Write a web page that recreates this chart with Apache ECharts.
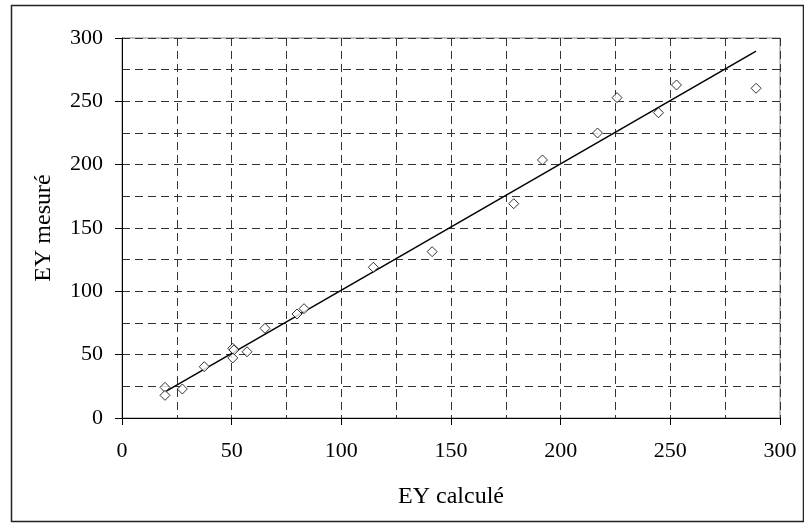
<!DOCTYPE html>
<html>
<head>
<meta charset="utf-8">
<script src="https://cdn.jsdelivr.net/npm/echarts@6/dist/echarts.min.js"></script>
<style>html,body{margin:0;padding:0;background:#fff;}#c{width:804px;height:523px;}</style>
</head>
<body>
<div id="c"></div>
<script>
var xCalc = [19.6, 19.6, 27.5, 37.5, 50.5, 51.0, 50.5, 57.0, 65.2, 79.8, 83.0, 114.6, 141.4, 178.6, 191.7, 216.8, 225.7, 244.6, 252.8, 289.1];
var yMes  = [24.2, 17.9, 22.9, 40.5, 55.0, 53.7, 47.4, 52.3, 70.8, 82.1, 86.3, 119.0, 131.3, 169.2, 203.7, 225.0, 252.9, 241.0, 262.9, 260.3];
var lineX = [19.6, 289.1];
var lineY = [20.6, 289.7];
var xTitle = 'EY calculé';
var yTitle = 'EY mesuré';

var pts = xCalc.map(function (x, i) { return [x, yMes[i]]; });
var linePts = lineX.map(function (x, i) { return [x, lineY[i]]; });
var font = 'Liberation Serif';
var dash = { color: '#333', width: 1, type: [8, 5] };

var chart = echarts.init(document.getElementById('c'), null, { renderer: 'canvas' });
chart.setOption({
  animation: false,
  backgroundColor: '#fff',
  textStyle: { fontFamily: font },
  graphic: [{
    type: 'rect', left: 9, top: 3, z: 100,
    shape: { width: 792, height: 516 },
    style: { fill: null, stroke: '#222', lineWidth: 1.5 }
  }],
  grid: { left: 122, right: 24, top: 38, bottom: 105, show: true, borderColor: '#888', borderWidth: 1, backgroundColor: 'transparent' },
  xAxis: {
    type: 'value', min: 0, max: 300, interval: 50,
    name: xTitle, nameLocation: 'middle', nameGap: 67,
    nameTextStyle: { fontFamily: font, fontSize: 24, color: '#000' },
    axisLine: { show: true, lineStyle: { color: '#000', width: 1 } },
    axisTick: { show: true, length: 7, lineStyle: { color: '#000' } },
    axisLabel: { fontFamily: font, fontSize: 22, color: '#000', margin: 22 },
    splitLine: { show: true, lineStyle: dash },
    minorTick: { show: false, splitNumber: 2 },
    minorSplitLine: { show: true, lineStyle: dash }
  },
  yAxis: {
    type: 'value', min: 0, max: 300, interval: 50,
    name: yTitle, nameLocation: 'middle', nameGap: 66, nameRotate: 90,
    nameTextStyle: { fontFamily: font, fontSize: 24, color: '#000' },
    axisLine: { show: true, lineStyle: { color: '#000', width: 1 } },
    axisTick: { show: true, length: 7, lineStyle: { color: '#000' } },
    axisLabel: { fontFamily: font, fontSize: 22, color: '#000', margin: 19 },
    splitLine: { show: true, lineStyle: dash },
    minorTick: { show: false, splitNumber: 2 },
    minorSplitLine: { show: true, lineStyle: dash }
  },
  series: [{
    type: 'line', data: linePts, showSymbol: false, symbol: 'none',
    lineStyle: { color: '#000', width: 1.5 }, z: 3
  }, {
    type: 'scatter', data: pts, symbol: 'diamond', symbolSize: 10,
    itemStyle: { color: '#fff', borderColor: '#000', borderWidth: 1 }, z: 4
  }]
});
</script>
</body>
</html>
